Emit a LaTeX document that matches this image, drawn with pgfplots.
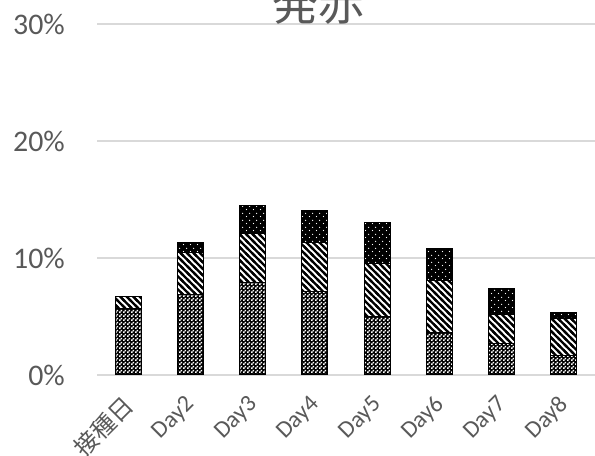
\documentclass[border=0pt]{standalone}
\usepackage{pgfplots}
\pgfplotsset{compat=1.18}
\usetikzlibrary{patterns}
\usepackage{fontspec}
\setmainfont{Carlito}
\newfontfamily\cjk{Noto Sans CJK JP}
\definecolor{txt}{HTML}{595959}
\definecolor{gridc}{HTML}{D9D9D9}

\pgfdeclarepatternformonly{checks}{\pgfqpoint{0bp}{0bp}}{\pgfqpoint{3.6bp}{3.6bp}}{\pgfqpoint{3.6bp}{3.6bp}}{%
  \pgfpathrectangle{\pgfqpoint{0.1bp}{0.1bp}}{\pgfqpoint{1.6bp}{1.6bp}}%
  \pgfpathrectangle{\pgfqpoint{1.9bp}{1.9bp}}{\pgfqpoint{1.6bp}{1.6bp}}%
  \pgfusepath{fill}}

\pgfdeclarepatternformonly{stripes}{\pgfqpoint{-2bp}{-2bp}}{\pgfqpoint{8.5bp}{8.5bp}}{\pgfqpoint{6.5bp}{6.5bp}}{%
  \pgfsetlinewidth{2.4bp}%
  \pgfpathmoveto{\pgfqpoint{-6.5bp}{13bp}}%
  \pgfpathlineto{\pgfqpoint{13bp}{-6.5bp}}%
  \pgfusepath{stroke}}

\pgfdeclarepatternformonly{wdots}{\pgfqpoint{0bp}{0bp}}{\pgfqpoint{7bp}{7bp}}{\pgfqpoint{7bp}{7bp}}{%
  \pgfpathcircle{\pgfqpoint{1.75bp}{1.75bp}}{0.75bp}%
  \pgfpathcircle{\pgfqpoint{5.25bp}{5.25bp}}{0.75bp}%
  \pgfusepath{fill}}

\begin{document}
\begin{tikzpicture}[x=1bp,y=1bp]
\useasboundingbox (0,0) rectangle (595,456);
\begin{axis}[
  at={(97bp,81bp)}, anchor=south west, scale only axis,
  width=498bp, height=351bp,
  ybar stacked, bar width=26bp,
  xmin=-0.5, xmax=7.5, ymin=0, ymax=30,
  xtick={0,...,7},
  xticklabels={{\cjk 接種日},Day2,Day3,Day4,Day5,Day6,Day7,Day8},
  ytick={0,10,20,30},
  yticklabel={\pgfmathprintnumber{\tick}\%},
  ymajorgrids, grid style={color=gridc, line width=1.3bp},
  axis line style={draw=none}, major tick style={draw=none},
  tick label style={text=txt},
  yticklabel style={font=\fontsize{30}{36}\selectfont},
  /pgf/number format/assume math mode=true,
  yticklabel style={anchor=east, inner sep=0pt, xshift=-32bp},
  xticklabel style={font=\fontsize{24}{28}\selectfont, xshift=1bp, yshift=-26bp, rotate=45, anchor=east, inner sep=0pt},
  clip=false,
]
\addplot[draw=black, line width=1bp, preaction={fill=black}, pattern=checks, pattern color=white] coordinates
  {(0,5.7) (1,6.9) (2,7.9) (3,7.1) (4,5.0) (5,3.6) (6,2.65) (7,1.7)};
\addplot[draw=black, line width=1bp, preaction={fill=white}, pattern=stripes] coordinates
  {(0,1.0) (1,3.6) (2,4.2) (3,4.2) (4,4.55) (5,4.45) (6,2.55) (7,3.1)};
\addplot[draw=black, line width=1bp, preaction={fill=black}, pattern=wdots, pattern color=white] coordinates
  {(0,0) (1,0.8) (2,2.4) (3,2.8) (4,3.5) (5,2.75) (6,2.2) (7,0.5)};
\end{axis}
\node[font=\cjk\fontsize{46}{50}\selectfont, text=txt, anchor=base, inner sep=0pt] at (318,435) {発赤};
\end{tikzpicture}
\end{document}
